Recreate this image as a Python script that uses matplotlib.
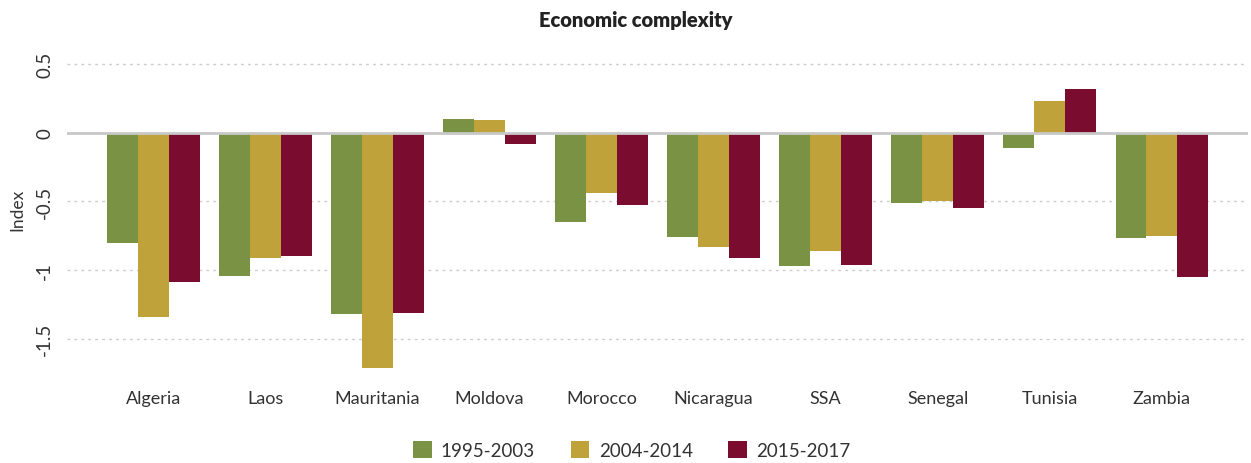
import matplotlib.pyplot as plt
import numpy as np

plt.rcParams['font.family'] = ['Lato', 'DejaVu Sans']
plt.rcParams['axes.unicode_minus'] = False

# data
countries = ['Algeria', 'Laos', 'Mauritania', 'Moldova', 'Morocco',
             'Nicaragua', 'SSA', 'Senegal', 'Tunisia', 'Zambia']
p1995 = [-0.80, -1.04, -1.32, 0.10, -0.65, -0.76, -0.97, -0.51, -0.11, -0.77]
p2004 = [-1.34, -0.91, -1.71, 0.09, -0.44, -0.83, -0.86, -0.50, 0.23, -0.75]
p2015 = [-1.09, -0.90, -1.31, -0.085, -0.53, -0.91, -0.96, -0.55, 0.32, -1.05]
labels = ['1995-2003', '2004-2014', '2015-2017']
colors = ['#7A9244', '#BFA33A', '#7A0C2F']

yticks = [0.5, 0, -0.5, -1, -1.5]
ytick_labels = ['0.5', '0', '-0.5', '-1', '-1.5']

fig = plt.figure(figsize=(12.51, 4.64), dpi=100)
ax = fig.add_axes([0.0536, 0.2026, 0.944, 0.69])

x = np.arange(len(countries))
w = 0.275
for i, (vals, lab, c) in enumerate(zip([p1995, p2004, p2015], labels, colors)):
    ax.bar(x + (i - 1) * w, vals, width=w, color=c, label=lab, zorder=2)

ax.axhline(0, color='#C8C8C8', lw=2, zorder=3)
ax.set_xlim(-0.77, 9.77)
ax.set_ylim(-1.72, 0.61)
ax.set_yticks(yticks)
ax.set_yticklabels(ytick_labels, rotation=90, va='center', fontsize=13.5, color='#333333')
ax.set_xticks(x)
ax.set_xticklabels(countries, fontsize=13, color='#333333')
ax.tick_params(axis='both', length=0)
ax.tick_params(axis='x', pad=15)
ax.tick_params(axis='y', pad=10)
for s in ax.spines.values():
    s.set_visible(False)
ax.grid(axis='y', linestyle=(0, (2, 3)), color='#CCCCCC', lw=1, zorder=0)
ax.set_ylabel('Index', fontsize=12.5, color='#333333', labelpad=8)

fig.text(0.508, 0.955, 'Economic complexity', ha='center', va='center',
         fontsize=14.5, fontweight='heavy', color='#222222')

fig.legend(loc='center', bbox_to_anchor=(0.505, 0.028), ncol=3, frameon=False,
           fontsize=13.5, handlelength=1.0, handleheight=1.0, handletextpad=0.5,
           columnspacing=1.9, labelcolor='#333333')

fig.savefig('out.png', dpi=100)
